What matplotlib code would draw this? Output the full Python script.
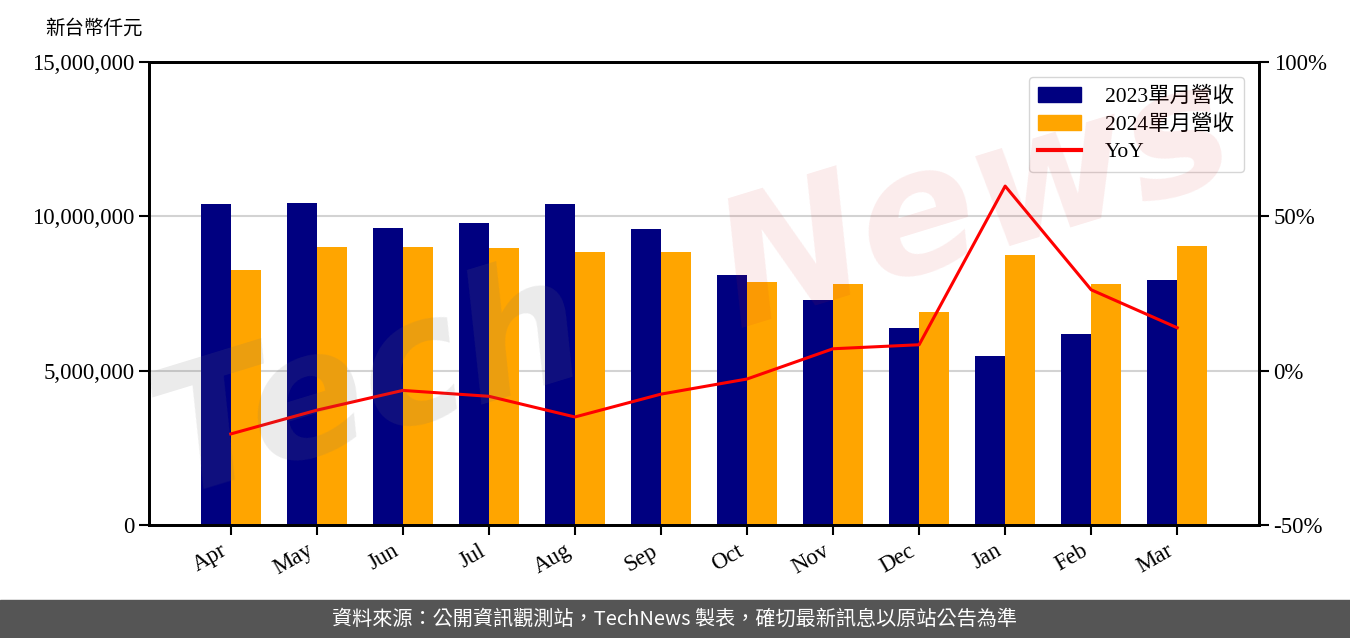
import matplotlib
matplotlib.use("Agg")
import matplotlib.pyplot as plt
from matplotlib.patches import Patch, Rectangle
from matplotlib.lines import Line2D
from matplotlib.ticker import FuncFormatter

months = ["Apr", "May", "Jun", "Jul", "Aug", "Sep", "Oct", "Nov", "Dec", "Jan", "Feb", "Mar"]
rev_2023 = [10400000, 10430000, 9620000, 9780000, 10400000, 9590000,
            8100000, 7290000, 6380000, 5470000, 6190000, 7940000]
rev_2024 = [8260000, 9010000, 9010000, 8970000, 8840000, 8840000,
            7870000, 7810000, 6900000, 8750000, 7810000, 9040000]
yoy = [-20.5, -12.8, -6.4, -8.3, -15.0, -7.6, -2.7, 7.1, 8.4, 59.8, 26.2, 13.9]
y_ticks = [0, 5000000, 10000000, 15000000]
yoy_ticks = [-50, 0, 50, 100]

SERIF = ["Liberation Serif", "Noto Sans CJK TC"]
CJK = ["Noto Sans CJK TC", "DejaVu Sans"]

fig = plt.figure(figsize=(13.5, 6.38), dpi=100)
ax = fig.add_axes([149/1350, 1-525/638, (1259-149)/1350, (525-62)/638])

x = list(range(len(months)))
w = 0.35
ax.bar([i - w/2 for i in x], rev_2023, width=w, color="#000080", zorder=2)
ax.bar([i + w/2 for i in x], rev_2024, width=w, color="#ffa500", zorder=2)
ax.set_xlim(-0.95, 11.95)
ax.set_ylim(0, 15000000)
ax.set_yticks(y_ticks)
ax.yaxis.set_major_formatter(FuncFormatter(lambda v, p: f"{int(v):,}"))
ax.set_xticks(x)
ax.set_xticklabels(months, rotation=30, ha="right")
ax.yaxis.grid(True, color="#d3d3d3", lw=1.5, zorder=0)
ax.set_axisbelow(True)
for lab in ax.get_xticklabels() + ax.get_yticklabels():
    lab.set_family(SERIF)
    lab.set_fontsize(16.5)
ax.tick_params(axis="both", length=7, width=1.5)
ax.tick_params(axis="x", pad=4)
for s in ax.spines.values():
    s.set_linewidth(2)

ax2 = ax.twinx()
ax2.plot(x, yoy, color="#ff0000", lw=2.2, zorder=3)
ax2.set_ylim(-50, 100)
ax2.set_yticks(yoy_ticks)
ax2.set_yticklabels([f"{t}%" for t in yoy_ticks])
for lab in ax2.get_yticklabels():
    lab.set_family(SERIF)
    lab.set_fontsize(16.5)
ax2.tick_params(axis="y", length=7, width=1.5)
for s in ax2.spines.values():
    s.set_linewidth(2)

handles = [Patch(color="#000080"), Patch(color="#ffa500"), Line2D([], [], color="#ff0000", lw=3)]
labels = ["2023單月營收", "2024單月營收", "YoY"]
ax2.legend(handles, labels, loc="upper right", prop={"family": SERIF, "size": 15.5},
           handlelength=2.0, handletextpad=1.1, borderpad=0.45, labelspacing=0.35,
           borderaxespad=0.7)

fig.text(45/1350, 1-28/638, "新台幣仟元", family=CJK, fontsize=14, va="center", ha="left")

# watermark
fig.text(370/1350, 1-385/638, "Tech", fontsize=125, fontweight="bold", style="italic",
         color=(0.45, 0.45, 0.45), alpha=0.14, rotation=17, ha="center", va="center", zorder=10)
fig.text(975/1350, 1-205/638, "News", fontsize=125, fontweight="bold", style="italic",
         color=(0.85, 0.15, 0.15), alpha=0.09, rotation=17, ha="center", va="center", zorder=10)

# footer
fig.patches.append(Rectangle((0, 0), 1, 38/638, transform=fig.transFigure,
                             color="#555555", zorder=0))
fig.text(0.5, 19/638, "資料來源：公開資訊觀測站，TechNews 製表，確切最新訊息以原站公告為準",
         family=CJK, fontsize=14.5, color="white", ha="center", va="center")

fig.savefig("out.png", dpi=100)
